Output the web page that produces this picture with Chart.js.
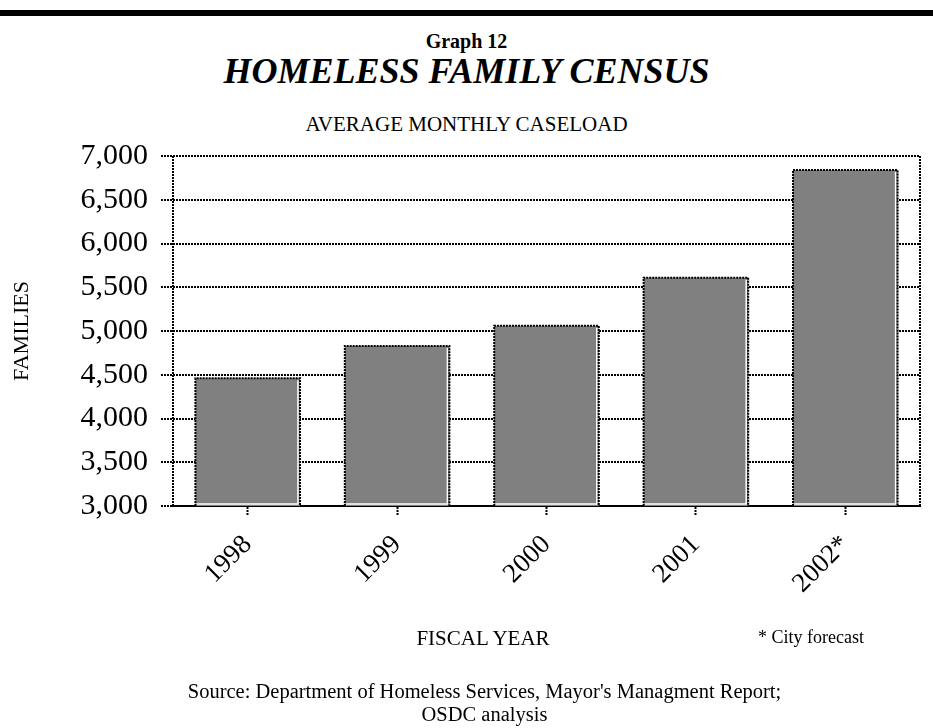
<!DOCTYPE html>
<html>
<head>
<meta charset="utf-8">
<script src="https://cdn.jsdelivr.net/npm/chart.js@4.4.0/dist/chart.umd.min.js"></script>
<style>
  html, body { margin: 0; padding: 0; background: #fff; }
  body { width: 933px; height: 728px; position: relative; overflow: hidden; font-family: "Liberation Serif", "Times New Roman", serif; color: #000; }
  .rule { position: absolute; left: 0; top: 10px; width: 933px; height: 6px; background: #000; }
  .txt { position: absolute; left: 0; width: 933px; text-align: center; white-space: nowrap; }
  #graphNo { top: 31px; font-size: 20px; line-height: 20px; font-weight: bold; }
  #title { top: 53px; font-size: 36px; line-height: 36px; font-weight: bold; font-style: italic; }
  #subtitle { top: 114px; font-size: 21px; line-height: 21px; }
  #xTitle { position: absolute; left: 383px; width: 200px; text-align: center; top: 628px; font-size: 21px; line-height: 21px; }
  #note { position: absolute; left: 758px; top: 628px; font-size: 18px; line-height: 18px; white-space: nowrap; }
  #source { top: 680px; font-size: 20.5px; line-height: 23px; left: 18px; }
  canvas { position: absolute; left: 0; top: 0; }
</style>
</head>
<body>
<div class="rule"></div>
<div class="txt" id="graphNo">Graph 12</div>
<div class="txt" id="title">HOMELESS FAMILY CENSUS</div>
<div class="txt" id="subtitle">AVERAGE MONTHLY CASELOAD</div>
<canvas id="chart" width="933" height="728"></canvas>
<div id="xTitle">FISCAL YEAR</div>
<div id="note">* City forecast</div>
<div class="txt" id="source">Source: Department of Homeless Services, Mayor's Managment Report;<br>OSDC analysis</div>
<script>
const years = ['1998', '1999', '2000', '2001', '2002*'];
const families = [4460, 4830, 5060, 5610, 6840];
const yTicks = [3000, 3500, 4000, 4500, 5000, 5500, 6000, 6500, 7000];

const serif = '"Liberation Serif", "Times New Roman", serif';
const dots = [2, 1];

// dotted left/right edges of the plot box
const frame = {
  id: 'frame',
  beforeDatasetsDraw(chart) {
    const {ctx, chartArea: a} = chart;
    ctx.save();
    ctx.strokeStyle = '#000';
    ctx.lineWidth = 2;
    ctx.setLineDash(dots);
    ctx.beginPath();
    ctx.moveTo(a.left, a.top);
    ctx.lineTo(a.left, a.bottom);
    ctx.moveTo(a.right, a.top);
    ctx.lineTo(a.right, a.bottom);
    ctx.stroke();
    ctx.restore();
  }
};

// dotted outline with a white inner edge on each bar
const barEdges = {
  id: 'barEdges',
  afterDatasetsDraw(chart) {
    const {ctx, chartArea} = chart;
    chart.getDatasetMeta(0).data.forEach(bar => {
      const {x, y, base, width} = bar.getProps(['x', 'y', 'base', 'width'], true);
      // bars start at zero, below the axis minimum, so stop at the axis
      const b = Math.min(base, chartArea.bottom);
      const l = x - width / 2, r = x + width / 2;
      ctx.save();
      ctx.strokeStyle = '#fff';
      ctx.lineWidth = 1.5;
      ctx.beginPath();
      ctx.moveTo(r - 2, y + 2);
      ctx.lineTo(r - 2, b - 2);
      ctx.lineTo(l + 1, b - 2);
      ctx.stroke();
      ctx.strokeStyle = '#000';
      ctx.lineWidth = 2;
      ctx.setLineDash(dots);
      ctx.beginPath();
      ctx.moveTo(l, b);
      ctx.lineTo(l, y);
      ctx.lineTo(r, y);
      ctx.lineTo(r, b);
      ctx.stroke();
      ctx.restore();
    });
  }
};

new Chart(document.getElementById('chart'), {
  type: 'bar',
  data: {
    labels: years,
    datasets: [{
      data: families,
      backgroundColor: '#808080',
      borderWidth: 0,
      barPercentage: 0.7,
      categoryPercentage: 1
    }]
  },
  options: {
    responsive: false,
    animation: false,
    devicePixelRatio: 1,
    layout: { padding: { top: 156, left: 0, right: 13, bottom: 72 } },
    plugins: { legend: { display: false }, tooltip: { enabled: false } },
    scales: {
      x: {
        afterFit(scale) { scale.height = 150; },
        grid: {
          display: true,
          drawOnChartArea: false,
          drawTicks: true,
          offset: false,
          tickLength: 10,
          tickColor: '#000',
          tickWidth: 2,
          tickBorderDash: dots
        },
        border: { display: true, color: '#000', width: 2 },
        ticks: {
          color: '#000',
          font: { family: serif, size: 27 },
          minRotation: 45,
          maxRotation: 45,
          padding: 13
        }
      },
      y: {
        min: yTicks[0],
        max: yTicks[yTicks.length - 1],
        afterFit(scale) { scale.width = 173; },
        afterBuildTicks(scale) { scale.ticks = yTicks.map(v => ({ value: v })); },
        grid: {
          color: '#000',
          lineWidth: 2,
          drawTicks: true,
          tickLength: 12,
          tickColor: '#000',
          tickWidth: 2,
          tickBorderDash: dots
        },
        border: { display: false, dash: dots },
        ticks: {
          color: '#000',
          font: { family: serif, size: 30 },
          padding: 13,
          callback: v => v.toLocaleString('en-US')
        },
        title: {
          display: true,
          text: 'FAMILIES',
          color: '#000',
          font: { family: serif, size: 22 },
          padding: { top: 9, bottom: 0 }
        }
      }
    }
  },
  plugins: [frame, barEdges]
});
</script>
</body>
</html>
